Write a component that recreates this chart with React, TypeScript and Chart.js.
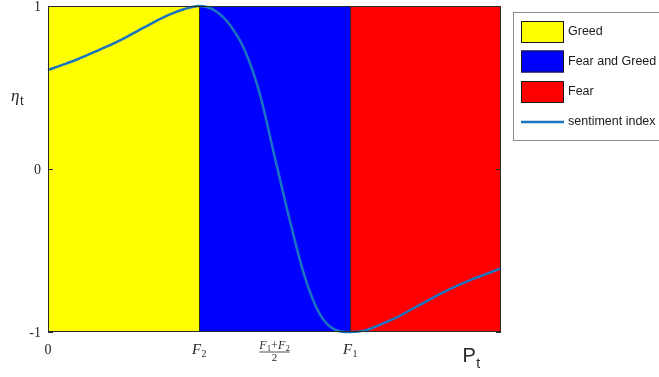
import React, { useEffect, useRef } from "react";
import { Chart, registerables } from "chart.js";

Chart.register(...registerables);

// ---- data ----
const curveX = [0, 0.1, 0.2, 0.3, 0.4, 0.5, 0.6, 0.7, 0.8, 0.9, 1.0, 1.1, 1.2, 1.3, 1.4, 1.5, 1.6, 1.7, 1.8, 1.9, 2.0, 2.1, 2.2, 2.3, 2.4, 2.5, 2.6, 2.7, 2.8, 2.9, 3.0];
const curveY = [0.607, 0.64, 0.675, 0.715, 0.755, 0.8, 0.85, 0.9, 0.945, 0.98, 1.0, 0.975, 0.89, 0.735, 0.47, 0.08, -0.31, -0.66, -0.89, -0.985, -1.0, -0.99, -0.955, -0.915, -0.865, -0.815, -0.765, -0.72, -0.68, -0.645, -0.61];

const regionStart = [0, 1, 2];
const regionEnd = [1, 2, 3];
const regionColors = ["#FFFF00", "#0000FF", "#FF0000"];
const regionLabels = ["Greed", "Fear and Greed", "Fear"];
const lineLabel = "sentiment index";
const lineColor = "#1b74c0";

const yTickValues = [1, 0, -1];
const yTickLabels = ["1", "0", "-1"];
const xTickValues = [0, 1, 1.5, 2];
const xTickLabels = ["0", "F_2", "frac", "F_1"];

const SERIF = '"Liberation Serif", "DejaVu Serif", serif';
const SANS = '"Liberation Sans", Arial, sans-serif';

function drawSub(ctx: CanvasRenderingContext2D, main: string, sub: string, cx: number, y: number, mainFont: string, subFont: string, subDy: number) {
  ctx.font = mainFont;
  const w1 = ctx.measureText(main).width;
  ctx.font = subFont;
  const w2 = ctx.measureText(sub).width;
  const x0 = cx - (w1 + w2) / 2;
  ctx.textAlign = "left";
  ctx.textBaseline = "alphabetic";
  ctx.font = mainFont;
  ctx.fillText(main, x0, y);
  ctx.font = subFont;
  ctx.fillText(sub, x0 + w1 + 0.5, y + subDy);
}

const decorPlugin = {
  id: "decor",
  beforeDatasetsDraw(chart: any) {
    const { ctx, chartArea, scales } = chart;
    const xs = scales.x;
    ctx.save();
    for (let i = 0; i < regionStart.length; i++) {
      const a = xs.getPixelForValue(regionStart[i]);
      const b = xs.getPixelForValue(regionEnd[i]);
      ctx.fillStyle = regionColors[i];
      ctx.fillRect(a, chartArea.top, b - a, chartArea.bottom - chartArea.top);
    }
    ctx.strokeStyle = "#2a2a2a";
    ctx.lineWidth = 1;
    for (let i = 1; i < regionStart.length; i++) {
      const a = Math.round(xs.getPixelForValue(regionStart[i])) + 0.5;
      ctx.beginPath();
      ctx.moveTo(a, chartArea.top);
      ctx.lineTo(a, chartArea.bottom);
      ctx.stroke();
    }
    ctx.restore();
  },
  afterDraw(chart: any) {
    const { ctx, chartArea, scales } = chart;
    const xs = scales.x;
    const ys = scales.y;
    ctx.save();
    // plot border
    ctx.strokeStyle = "#2a2a2a";
    ctx.lineWidth = 1;
    ctx.strokeRect(Math.round(chartArea.left) + 0.5, Math.round(chartArea.top) + 0.5, Math.round(chartArea.right - chartArea.left) - 1, Math.round(chartArea.bottom - chartArea.top) - 1);
    // y ticks
    ctx.fillStyle = "#262626";
    ctx.font = `14px ${SERIF}`;
    ctx.textAlign = "right";
    ctx.textBaseline = "middle";
    yTickValues.forEach((v, i) => {
      const py = ys.getPixelForValue(v);
      ctx.fillText(yTickLabels[i], chartArea.left - 7, py + 1);
      ctx.beginPath();
      ctx.moveTo(chartArea.left, Math.round(py) + 0.5);
      ctx.lineTo(chartArea.left + 5, Math.round(py) + 0.5);
      ctx.moveTo(chartArea.right, Math.round(py) + 0.5);
      ctx.lineTo(chartArea.right - 5, Math.round(py) + 0.5);
      ctx.stroke();
    });
    // x ticks
    const base = chartArea.bottom + 22;
    xTickValues.forEach((v, i) => {
      const px = xs.getPixelForValue(v);
      const lab = xTickLabels[i];
      ctx.fillStyle = "#262626";
      if (lab === "frac") {
        const nf = `italic 12px ${SERIF}`;
        const pf = `12px ${SERIF}`;
        const sf = `8px ${SERIF}`;
        const parts: [string, string][] = [["F", "1"], ["+", ""], ["F", "2"]];
        let total = 0;
        parts.forEach(([m, s]) => {
          ctx.font = m === "+" ? pf : nf;
          total += ctx.measureText(m).width;
          ctx.font = sf;
          total += s ? ctx.measureText(s).width + 0.5 : 0;
        });
        let x0 = px - total / 2;
        ctx.textAlign = "left";
        ctx.textBaseline = "alphabetic";
        parts.forEach(([m, s]) => {
          ctx.font = m === "+" ? pf : nf;
          ctx.fillText(m, x0, chartArea.bottom + 17);
          x0 += ctx.measureText(m).width;
          if (s) {
            ctx.font = sf;
            ctx.fillText(s, x0 + 0.5, chartArea.bottom + 19);
            x0 += ctx.measureText(s).width + 0.5;
          }
        });
        ctx.strokeStyle = "#262626";
        ctx.lineWidth = 0.8;
        ctx.beginPath();
        ctx.moveTo(px - total / 2, chartArea.bottom + 20);
        ctx.lineTo(px + total / 2, chartArea.bottom + 20);
        ctx.stroke();
        ctx.font = `11px ${SERIF}`;
        ctx.textAlign = "center";
        ctx.fillText("2", px, chartArea.bottom + 29);
        ctx.lineWidth = 1;
      } else if (lab.includes("_")) {
        const [m, s] = lab.split("_");
        drawSub(ctx, m, s, px, base, `italic 15px ${SERIF}`, `10px ${SERIF}`, 3);
      } else {
        ctx.font = `14px ${SERIF}`;
        ctx.textAlign = "center";
        ctx.textBaseline = "alphabetic";
        ctx.fillText(lab, px, base);
      }
    });
    // axis labels
    ctx.fillStyle = "#262626";
    drawSub(ctx, "P", "t", 471, chartArea.bottom + 30, `20px ${SANS}`, `14px ${SANS}`, 6);
    drawSub(ctx, "\u03B7", "t", 17, 101, `italic 17px ${SERIF}`, `13px ${SANS}`, 4);

    // legend
    const lx = 513.5, ly = 12.5;
    ctx.fillStyle = "#ffffff";
    ctx.fillRect(lx, ly, 160, 128);
    ctx.strokeStyle = "#8c8c8c";
    ctx.lineWidth = 1;
    ctx.strokeRect(lx, ly, 160, 128);
    const rowY = [32, 61.5, 92];
    regionLabels.forEach((lab, i) => {
      ctx.fillStyle = regionColors[i];
      ctx.fillRect(521, rowY[i] - 11, 43, 22);
      ctx.strokeStyle = "#1a1a1a";
      ctx.strokeRect(521.5, rowY[i] - 10.5, 42, 21);
      ctx.fillStyle = "#1a1a1a";
      ctx.font = `12.5px ${SANS}`;
      ctx.textAlign = "left";
      ctx.textBaseline = "middle";
      ctx.fillText(lab, 568, rowY[i]);
    });
    ctx.strokeStyle = lineColor;
    ctx.lineWidth = 2.5;
    ctx.beginPath();
    ctx.moveTo(521, 122);
    ctx.lineTo(564, 122);
    ctx.stroke();
    ctx.fillStyle = "#1a1a1a";
    ctx.font = `12.5px ${SANS}`;
    ctx.textAlign = "left";
    ctx.textBaseline = "middle";
    ctx.fillText(lineLabel, 568, 122);
    ctx.restore();
  },
};

export default function App() {
  const ref = useRef<HTMLCanvasElement | null>(null);
  useEffect(() => {
    if (!ref.current) return;
    const chart = new Chart(ref.current, {
      type: "line",
      data: {
        datasets: [
          {
            label: lineLabel,
            data: curveX.map((x, i) => ({ x, y: curveY[i] })),
            borderColor: lineColor,
            borderWidth: 2.5,
            pointRadius: 0,
            cubicInterpolationMode: "monotone",
            fill: false,
            clip: 4,
          } as any,
        ],
      },
      options: {
        animation: false,
        responsive: false,
        maintainAspectRatio: false,
        layout: { padding: { left: 48, top: 6, right: 158, bottom: 45 } },
        plugins: { legend: { display: false }, tooltip: { enabled: false } },
        scales: {
          x: { type: "linear", min: 0, max: 3, display: false },
          y: { type: "linear", min: -1, max: 1, display: false },
        },
      },
      plugins: [decorPlugin],
    });
    return () => chart.destroy();
  }, []);
  return (
    <div style={{ position: "fixed", left: 0, top: 0, width: 659, height: 377, background: "#fff" }}>
      <canvas ref={ref} width={659} height={377} style={{ display: "block", width: 659, height: 377 }} />
    </div>
  );
}
